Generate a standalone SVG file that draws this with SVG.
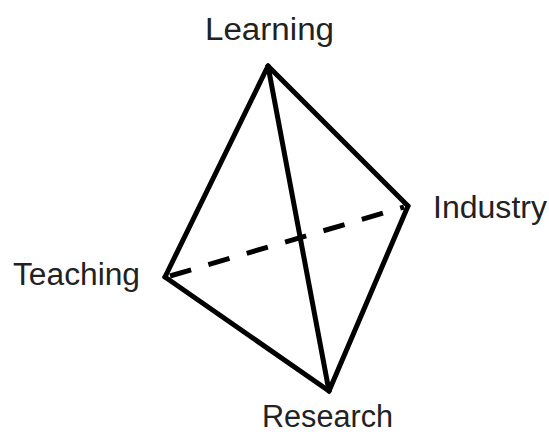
<svg xmlns="http://www.w3.org/2000/svg" width="549" height="435" viewBox="0 0 549 435">
<style>
.e{stroke:#000;stroke-width:5;fill:none;stroke-linecap:round;stroke-linejoin:round}
.d{stroke-dasharray:22 18;stroke-linecap:butt}
text{font-family:"Liberation Sans",Arial,sans-serif;font-size:31px;fill:#222}
</style>
<rect width="549" height="435" fill="#fff"/>
<g id="connectors">
<line class="e" x1="268" y1="66" x2="165" y2="277"/>
<line class="e" x1="268" y1="66" x2="408" y2="206"/>
<line class="e" x1="268" y1="66" x2="329" y2="391"/>
<line class="e" x1="408" y1="206" x2="329" y2="391"/>
<line class="e" x1="165" y1="277" x2="329" y2="391"/>
<line class="e d" x1="170" y1="276" x2="404" y2="207"/>
</g>
<g id="learning"><text x="205" y="40" textLength="129" lengthAdjust="spacingAndGlyphs">Learning</text></g>
<g id="industry"><text x="433" y="218" textLength="114" lengthAdjust="spacingAndGlyphs">Industry</text></g>
<g id="teaching"><text x="13" y="285" textLength="127" lengthAdjust="spacingAndGlyphs">Teaching</text></g>
<g id="research"><text x="262" y="427" textLength="131" lengthAdjust="spacingAndGlyphs">Research</text></g>
</svg>
